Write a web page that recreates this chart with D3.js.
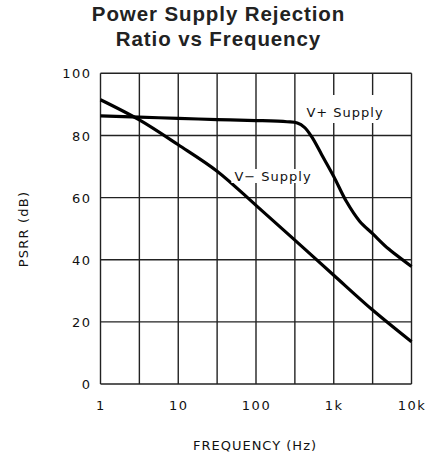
<!DOCTYPE html>
<html>
<head>
<meta charset="utf-8">
<script src="https://cdn.jsdelivr.net/npm/d3@7"></script>
<style>
  html, body { margin: 0; padding: 0; background: #fff; }
  svg { display: block; }
  .tick text, .lbl { font-family: "DejaVu Sans", sans-serif; fill: #111; }
</style>
</head>
<body>
<svg id="chart" width="429" height="460"></svg>
<script>
// PSRR vs frequency, two supply rails
const titleLines = ["Power Supply Rejection", "Ratio vs Frequency"];
const xTickValues = [1, 10, 100, 1000, 10000];
const xTickLabels = ["1", "10", "100", "1k", "10k"];
const xGridValues = [1, 3.162, 10, 31.62, 100, 316.2, 1000, 3162, 10000];
const yTickValues = [0, 20, 40, 60, 80, 100];

const vPlusFreq  = [1, 3.16, 10, 31.6, 100, 250, 340, 420, 520, 700, 1000, 1450, 2150, 3160, 5000, 10000];
const vPlusPsrr  = [86.3, 85.9, 85.5, 85.1, 84.8, 84.4, 84.0, 82.6, 79.6, 73.8, 66.8, 58.8, 52.4, 48.4, 43.6, 37.8];
const vMinusFreq = [1, 3.16, 10, 31.6, 100, 316, 1000, 3162, 10000];
const vMinusPsrr = [91.5, 85.0, 77.0, 68.5, 57.5, 46.3, 35.0, 23.8, 13.6];

const seriesNames = ["V+ Supply", "V\u2212 Supply"];

const svg = d3.select("#chart");
const plot = { left: 100.5, right: 411.5, top: 73.3, bottom: 384 };

const x = d3.scaleLog().domain([1, 10000]).range([plot.left, plot.right]);
const y = d3.scaleLinear().domain([0, 100]).range([plot.bottom, plot.top]);

// title
svg.append("text")
  .attr("x", 218.5).attr("text-anchor", "middle")
  .style("font-family", "'Liberation Sans', Arial, sans-serif")
  .style("font-weight", "bold").style("font-size", "20.5px")
  .style("letter-spacing", "0.9px").attr("fill", "#222")
  .selectAll("tspan").data(titleLines).join("tspan")
  .attr("x", 218.5).attr("y", (d, i) => 20.7 + i * 25.5)
  .text(d => d);

// grid
const grid = svg.append("g").attr("stroke", "#222").attr("stroke-width", 1.4);
grid.selectAll("line.v").data(xGridValues).join("line")
  .attr("x1", d => x(d)).attr("x2", d => x(d))
  .attr("y1", plot.top).attr("y2", plot.bottom);
grid.selectAll("line.h").data(yTickValues).join("line")
  .attr("x1", plot.left).attr("x2", plot.right)
  .attr("y1", d => y(d)).attr("y2", d => y(d));

// axes (labels only; the grid draws the lines)
const xAxis = svg.append("g").attr("transform", `translate(0,${plot.bottom})`)
  .call(d3.axisBottom(x).tickValues(xTickValues).tickSize(0)
    .tickFormat((d, i) => xTickLabels[i]));
xAxis.select(".domain").remove();
xAxis.selectAll("text").attr("dy", 0).attr("y", 26)
  .style("font-size", "13px").style("letter-spacing", "1.5px");

const yAxis = svg.append("g").attr("transform", `translate(${plot.left},0)`)
  .call(d3.axisLeft(y).tickValues(yTickValues).tickSize(0));
yAxis.select(".domain").remove();
yAxis.selectAll("text").attr("x", -9).attr("dy", "0.36em")
  .style("font-size", "13px").style("letter-spacing", "1.5px");

// axis titles
svg.append("text").attr("class", "lbl")
  .attr("x", 255).attr("y", 450).attr("text-anchor", "middle")
  .style("font-size", "13px").style("letter-spacing", "1px")
  .text("FREQUENCY (Hz)");
svg.append("text").attr("class", "lbl")
  .attr("transform", "translate(28,229) rotate(-90)")
  .attr("text-anchor", "middle")
  .style("font-size", "13px").style("letter-spacing", "1.2px")
  .text("PSRR (dB)");

// curves
const line = d3.line().x(d => x(d[0])).y(d => y(d[1])).curve(d3.curveCatmullRom.alpha(0.5));
const series = [
  d3.zip(vPlusFreq, vPlusPsrr),
  d3.zip(vMinusFreq, vMinusPsrr)
];
svg.append("g").selectAll("path").data(series).join("path")
  .attr("d", line).attr("fill", "none")
  .attr("stroke", "#000").attr("stroke-width", 3.2)
  .attr("stroke-linejoin", "round");

// series labels on white patches
const labels = [
  { text: seriesNames[0], cx: 345, base: 117, padTop: 12, padBottom: 5 },
  { text: seriesNames[1], cx: 273, base: 181, padTop: 2, padBottom: 1 }
];
labels.forEach(l => {
  const g = svg.append("g");
  const rect = g.append("rect").attr("fill", "#fff");
  const t = g.append("text").attr("class", "lbl")
    .attr("x", l.cx).attr("y", l.base).attr("text-anchor", "middle")
    .style("font-size", "13px").style("letter-spacing", "1px")
    .text(l.text);
  const b = t.node().getBBox();
  rect.attr("x", b.x - 3).attr("width", b.width + 6)
    .attr("y", b.y + 2 - l.padTop).attr("height", b.height - 4 + l.padTop + l.padBottom);
});
</script>
</body>
</html>
